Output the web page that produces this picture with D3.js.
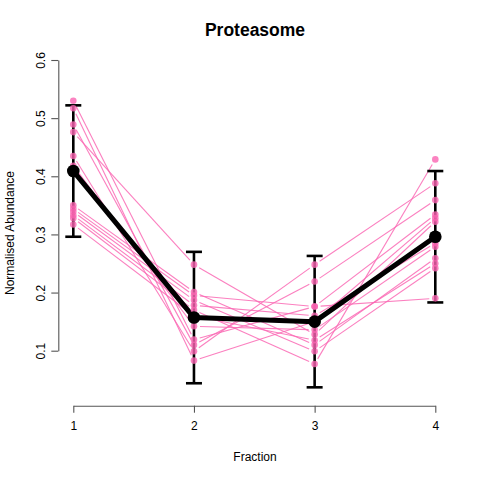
<!DOCTYPE html>
<html>
<head>
<meta charset="utf-8">
<script src="https://cdn.jsdelivr.net/npm/d3@7"></script>
<style>
  html, body { margin: 0; padding: 0; background: #fff; }
  svg { display: block; }
  text { font-family: "Liberation Sans", Arial, Helvetica, sans-serif; }
</style>
</head>
<body>
<svg id="chart" width="480" height="480"></svg>
<script>
// ---- Data ----
const title = "Proteasome";
const xLabel = "Fraction";
const yLabel = "Normalised Abundance";
const fractions = [1, 2, 3, 4];
const xTicks = [1, 2, 3, 4];
const yTicks = [0.1, 0.2, 0.3, 0.4, 0.5, 0.6];

// individual proteins (values at fractions 1..4)
const p01 = [0.530, 0.119, 0.176, 0.334];
const p02 = [0.517, 0.083, 0.150, 0.328];
const p03 = [0.489, 0.110, 0.219, 0.359];
const p04 = [0.476, 0.248, 0.128, 0.322];
const p05 = [0.435, 0.099, 0.248, 0.388];
const p06 = [0.418, 0.142, 0.136, 0.279];
const p07 = [0.350, 0.201, 0.110, 0.259];
const p08 = [0.344, 0.195, 0.176, 0.190];
const p09 = [0.339, 0.187, 0.099, 0.242];
const p10 = [0.333, 0.178, 0.160, 0.285];
const p11 = [0.328, 0.170, 0.077, 0.429];
const p12 = [0.317, 0.160, 0.118, 0.250];
const proteins = [p01, p02, p03, p04, p05, p06, p07, p08, p09, p10, p11, p12];

// mean profile and error (+/-)
const meanValues = [0.409, 0.157, 0.150, 0.296];
const errValues = [0.113, 0.113, 0.113, 0.113];

// ---- Drawing ----
const svg = d3.select("#chart");
const x = d3.scaleLinear().domain([1, 4]).range([73.3, 435.3]);
const y = d3.scaleLinear().domain([0.1, 0.6]).range([350.7, 60]);

const pinkLine = "rgba(250,105,180,0.85)";
const pinkPt = "rgba(250,100,178,0.8)";
const gap = 6;

// protein lines (type "b": segments with gaps around points)
const segs = [];
proteins.forEach(p => {
  for (let i = 0; i < p.length - 1; i++) {
    const x1 = x(fractions[i]), y1 = y(p[i]);
    const x2 = x(fractions[i + 1]), y2 = y(p[i + 1]);
    const L = Math.hypot(x2 - x1, y2 - y1);
    const ux = (x2 - x1) / L, uy = (y2 - y1) / L;
    segs.push({x1: x1 + ux * gap, y1: y1 + uy * gap, x2: x2 - ux * gap, y2: y2 - uy * gap});
  }
});
svg.append("g").selectAll("line").data(segs).join("line")
  .attr("x1", d => d.x1).attr("y1", d => d.y1)
  .attr("x2", d => d.x2).attr("y2", d => d.y2)
  .attr("stroke", pinkLine).attr("stroke-width", 1.1);

// mean line
const line = d3.line().x((d, i) => x(fractions[i])).y(d => y(d));
svg.append("path").datum(meanValues).attr("d", line)
  .attr("fill", "none").attr("stroke", "#000").attr("stroke-width", 5)
  .attr("stroke-linejoin", "round");

// error bars
const eb = svg.append("g").attr("stroke", "#000").attr("stroke-width", 2.6);
meanValues.forEach((m, i) => {
  const cx = x(fractions[i]);
  const top = y(m + errValues[i]), bot = y(m - errValues[i]);
  eb.append("line").attr("x1", cx).attr("x2", cx).attr("y1", top).attr("y2", bot);
  eb.append("line").attr("x1", cx - 8).attr("x2", cx + 8).attr("y1", top).attr("y2", top);
  eb.append("line").attr("x1", cx - 8).attr("x2", cx + 8).attr("y1", bot).attr("y2", bot);
});

// protein points
const pts = [];
proteins.forEach(p => p.forEach((v, i) => pts.push({f: fractions[i], v})));
svg.append("g").selectAll("circle").data(pts).join("circle")
  .attr("cx", d => x(d.f)).attr("cy", d => y(d.v)).attr("r", 3.3)
  .attr("fill", pinkPt);

// mean points
svg.append("g").selectAll("circle").data(meanValues).join("circle")
  .attr("cx", (d, i) => x(fractions[i])).attr("cy", d => y(d)).attr("r", 6.3)
  .attr("fill", "#000");

// axes
const axisColor = "#555";
const xAxis = svg.append("g").attr("transform", "translate(0,405.7)")
  .call(d3.axisBottom(x).tickValues(xTicks).tickFormat(d3.format("d")).tickSize(7).tickPadding(9).tickSizeOuter(0));
const yAxis = svg.append("g").attr("transform", "translate(58.3,0)")
  .call(d3.axisLeft(y).tickValues(yTicks).tickFormat(d3.format(".1f")).tickSize(7).tickSizeOuter(0));
[xAxis, yAxis].forEach(a => {
  a.select(".domain").attr("stroke", axisColor).attr("stroke-width", 1.1);
  a.selectAll(".tick line").attr("stroke", axisColor).attr("stroke-width", 1.1);
  a.selectAll("text").attr("font-size", 12).attr("fill", "#000")
    .attr("font-family", "Liberation Sans, Arial, sans-serif");
});
yAxis.selectAll(".tick text")
  .attr("text-anchor", "middle")
  .attr("transform", "translate(-18,0) rotate(-90)")
  .attr("x", 0).attr("y", 0).attr("dy", "0.35em");

// titles
svg.append("text").attr("x", 255).attr("y", 36).attr("text-anchor", "middle")
  .attr("font-size", 17.5).attr("font-weight", "bold").text(title);
svg.append("text").attr("x", 255).attr("y", 461).attr("text-anchor", "middle")
  .attr("font-size", 12).text(xLabel);
svg.append("text").attr("transform", "translate(14,233) rotate(-90)")
  .attr("text-anchor", "middle").attr("font-size", 12).text(yLabel);
</script>
</body>
</html>
